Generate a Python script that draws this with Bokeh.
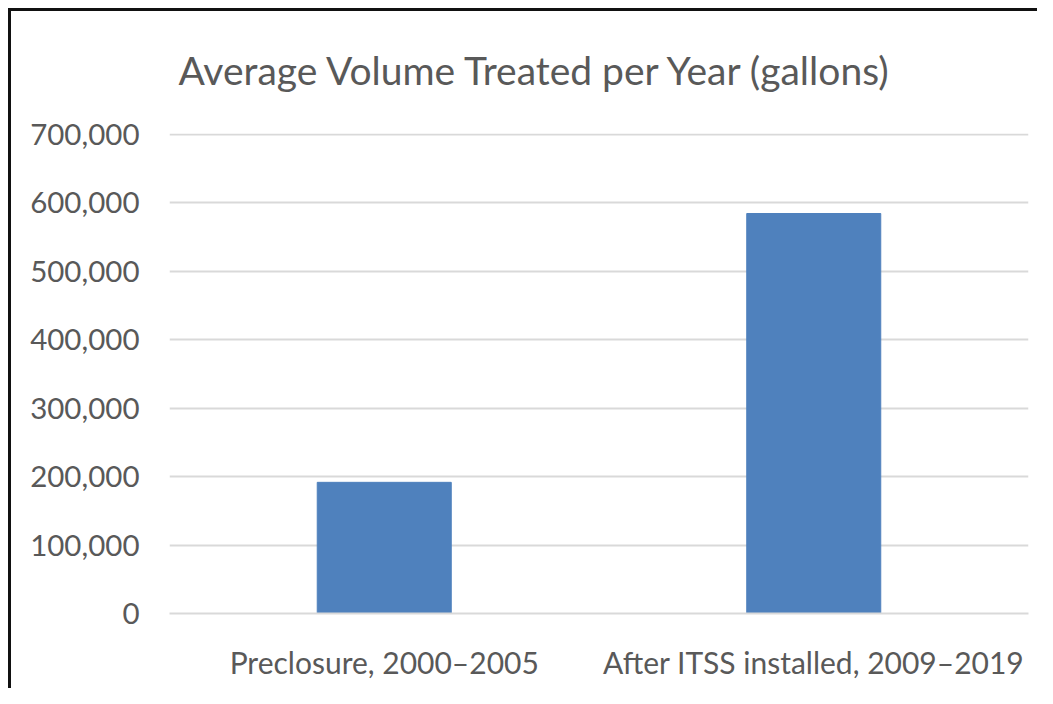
from bokeh.plotting import figure
from bokeh.models import ColumnDataSource, NumeralTickFormatter, FixedTicker, Range1d, FactorRange, Title
from bokeh.embed import file_html
from bokeh.resources import INLINE

categories = ["Preclosure, 2000\u20132005", "After ITSS installed, 2009\u20132019"]
volumes = [191500, 584000]
y_ticks = [0, 100000, 200000, 300000, 400000, 500000, 600000, 700000]
title_text = "Average Volume Treated per Year (gallons)"

FONT = "Lato"
TEXT = "#595959"

src = ColumnDataSource(data=dict(cat=categories, vol=volumes))

p = figure(
    width=1037, height=688,
    x_range=FactorRange(*categories, range_padding=0),
    y_range=Range1d(0, 700800),
    output_backend="svg", toolbar_location=None,
    min_border_left=169, min_border_right=9,
    min_border_top=133, min_border_bottom=75,
)
p.border_fill_color = None
p.background_fill_color = "white"
p.styles = {
    "background": "linear-gradient(#111, #111) 8px 8px / 3px 100% no-repeat, "
                  "linear-gradient(#111, #111) 8px 8px / 100% 3px no-repeat, white"
}
p.outline_line_color = None

t = Title(text=title_text, align="left", offset=9,
          text_font=FONT, text_font_size="39px", text_font_style="normal",
          text_color=TEXT, standoff=82, vertical_align="bottom")
p.add_layout(t, "above")

p.vbar(x="cat", top="vol", width=0.312, source=src,
       fill_color="#4F81BD", line_color="#4F81BD")

p.xgrid.grid_line_color = None
p.ygrid.grid_line_color = "#D9D9D9"
p.ygrid.grid_line_width = 2
p.ygrid.ticker = FixedTicker(ticks=y_ticks)

p.yaxis.ticker = FixedTicker(ticks=y_ticks)
p.yaxis.formatter = NumeralTickFormatter(format="0,0")
p.yaxis.axis_line_color = None
p.yaxis.major_tick_line_color = None
p.yaxis.minor_tick_line_color = None
p.yaxis.major_tick_out = 0
p.yaxis.major_label_standoff = 30
p.yaxis.major_label_text_font = FONT
p.yaxis.major_label_text_font_size = "29.5px"
p.yaxis.major_label_text_color = TEXT

p.xaxis.axis_line_color = "#D9D9D9"
p.xaxis.axis_line_width = 2
p.xaxis.major_tick_line_color = None
p.xaxis.minor_tick_line_color = None
p.xaxis.major_tick_out = 0
p.xaxis.major_label_standoff = 30
p.xaxis.major_label_text_font = FONT
p.xaxis.major_label_text_font_size = "30px"
p.xaxis.major_label_text_color = TEXT

open("out.html", "w").write(file_html(p, INLINE))
